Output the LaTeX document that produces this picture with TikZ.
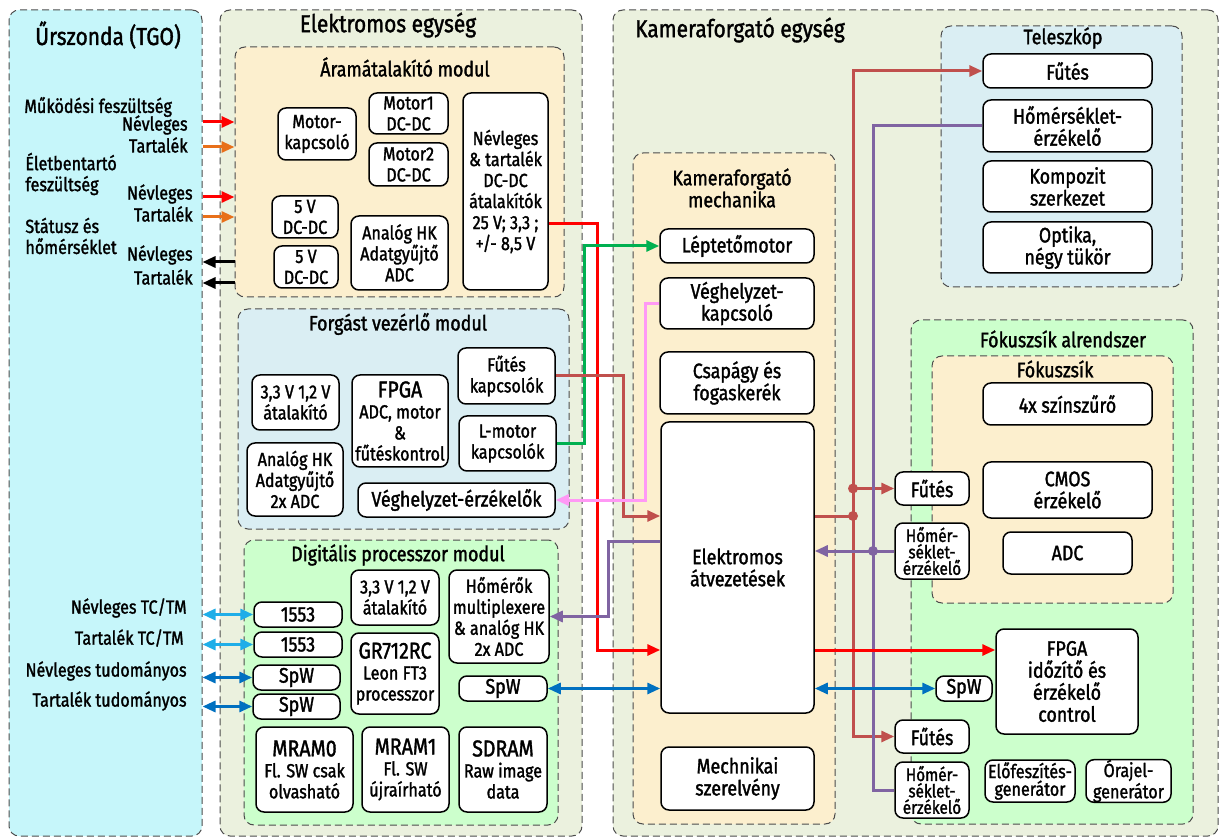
\documentclass[tikz,border=0pt]{standalone}
\usepackage{fontspec}
\setmainfont{Fira Sans}[FakeStretch=0.85,FakeBold=1.5]
\usetikzlibrary{arrows.meta}
\definecolor{cTGO}{HTML}{C6F6FA}
\definecolor{cUnit}{HTML}{EBF1DE}
\definecolor{cYel}{HTML}{FCEFCE}
\definecolor{cBlu}{HTML}{DAEEF3}
\definecolor{cGrn}{HTML}{CCFFCC}
\definecolor{wRed}{HTML}{FF0000}
\definecolor{wOra}{HTML}{E8701A}
\definecolor{wCyn}{HTML}{1FAEE8}
\definecolor{wBlu}{HTML}{0070C0}
\definecolor{wGrn}{HTML}{00B050}
\definecolor{wPnk}{HTML}{FF99F5}
\definecolor{wBrn}{HTML}{C0504D}
\definecolor{wPur}{HTML}{8064A2}
\newcommand\fsT{\fontsize{12.3}{13}\selectfont}
\newcommand\fsM{\fontsize{10.5}{11.5}\selectfont}
\newcommand\fsN{\fontsize{9.5}{10.5}\selectfont}
\newcommand\fsR{\fontsize{10.5}{11}\selectfont}
\newcommand\fsS{\fontsize{9}{8.2}\selectfont}
\newcommand\fsG{\fontsize{9.5}{8.8}\selectfont}
\newcommand\fsB{\fontsize{11.5}{12}\selectfont}
\begin{document}
\begin{tikzpicture}[x=0.5pt, y=-0.5pt, >={Triangle[length=6.5pt,width=5.5pt]},
  bx/.style args={#1/#2/#3/#4}{at={({(#1+#3)/2},{(#2+#4)/2})},
    minimum width={(#3-#1)*0.5pt}, minimum height={(#4-#2)*0.5pt}},
  grp/.style={draw=black!70, dash pattern=on 3.5pt off 2pt, line width=0.5pt, rounded corners=5pt, inner sep=0pt},
  box/.style={draw, line width=0.75pt, rounded corners=4pt, fill=white, inner sep=0pt, align=center, font=\fsN},
  rbox/.style={box, font=\fsR},
  sbox/.style={box, font=\fsS},
  ttl/.style={font=\fsT},
  mtl/.style={font=\fsM, align=center},
  lbl/.style={font=\fsN, align=left, inner sep=0pt},
  wire/.style={line width=1.5pt}]
 \useasboundingbox (0,0) rectangle (1226,839);
 % nagy egysegek
 \node[grp, fill=cTGO, bx=9/10/202/836] (tgo) {};
 \node[ttl] (tgot) at (108,35) {Űrszonda (TGO)};
 \node[grp, fill=cUnit, bx=220/10/582/836] (elek) {};
 \node[ttl] (elekt) at (388,25) {Elektromos egység};
 \node[grp, fill=cUnit, bx=613/10/1218/836] (kam) {};
 \node[ttl] (kamt) at (740,30) {Kameraforgató egység};
 % urszonda feliratok
 \node[lbl, anchor=west] (l1) at (24,107) {Működési feszültség};
 \node[lbl, anchor=east] (l2) at (188,125) {Névleges};
 \node[lbl, anchor=east] (l3) at (188,145) {Tartalék};
 \node[lbl, anchor=west] (l4) at (25,174) {Életbentartó\\feszültség};
 \node[lbl, anchor=east] (l5) at (193,194) {Névleges};
 \node[lbl, anchor=east] (l6) at (193,214) {Tartalék};
 \node[lbl, anchor=west] (l7) at (25,236) {Státusz és\\hőmérséklet};
 \node[lbl, anchor=east] (l8) at (193,255) {Névleges};
 \node[lbl, anchor=east] (l9) at (193,277) {Tartalék};
 \node[lbl, anchor=east] (l10) at (187,608) {Névleges TC/TM};
 \node[lbl, anchor=east] (l11) at (184,638) {Tartalék TC/TM};
 \node[lbl, anchor=east] (l12) at (187,671) {Névleges tudományos};
 \node[lbl, anchor=east] (l13) at (187,701) {Tartalék tudományos};
 % aramatalakito modul
 \node[grp, fill=cYel, bx=235/47/564/297] (aram) {};
 \node[mtl] (aramt) at (405,67) {Áramátalakító modul};
 \node[box, bx=278/108/356/160] (mkap) {Motor-\\kapcsoló};
 \node[box, bx=369/93/448/134] (m1) {Motor1\\DC-DC};
 \node[box, bx=369/143/448/186] (m2) {Motor2\\DC-DC};
 \node[box, bx=463/93/548/290] (dcdc) {Névleges\\\& tartalék\\DC-DC\\átalakítók\\25 V; 3,3 ;\\+/- 8,5 V};
 \node[box, bx=272/196/338/238] (v5a) {5 V\\DC-DC};
 \node[box, bx=274/246/338/288] (v5b) {5 V\\DC-DC};
 \node[box, bx=351/216/448/290] (ahk) {Analóg HK\\Adatgyűjtő\\ADC};
 % forgast vezerlo modul
 \node[grp, fill=cBlu, bx=238/309/569/529] (forg) {};
 \node[mtl] (forgt) at (398,324) {Forgást vezérlő modul};
 \node[box, bx=252/375/339/430] (f33) {3,3 V 1,2 V\\átalakító};
 \node[box, bx=352/375/448/467] (ffpga) {{\fsB FPGA}\\ADC, motor\\\&\\fűtéskontrol};
 \node[box, bx=458/348/555/404] (fkap) {Fűtés\\kapcsolók};
 \node[box, bx=459/416/556/471] (lmot) {L-motor\\kapcsolók};
 \node[box, bx=247/443/343/516] (fahk) {Analóg HK\\Adatgyűjtő\\2x ADC};
 \node[rbox, bx=358/483/555/517] (verz) {Véghelyzet-érzékelők};
 % digitalis processzor modul
 \node[grp, fill=cGrn, bx=244/540/558/825] (dig) {};
 \node[mtl] (digt) at (398,555) {Digitális processzor modul};
 \node[rbox, bx=254/602/342/627] (b1553a) {1553};
 \node[rbox, bx=254/632/342/657] (b1553b) {1553};
 \node[rbox, bx=253/665/340/690] (spwa) {SpW};
 \node[rbox, bx=253/694/340/719] (spwb) {SpW};
 \node[box, bx=351/570/439/625] (d33) {3,3 V 1,2 V\\átalakító};
 \node[box, bx=351/633/439/714] (gr) {{\fsB GR712RC}\\Leon FT3\\processzor};
 \node[box, bx=449/570/549/663] (hmux) {Hőmérők\\multiplexere\\\& analóg HK\\2x ADC};
 \node[rbox, bx=459/676/547/701] (spwc) {SpW};
 \node[box, bx=256/727/353/812] (mram0) {{\fsB MRAM0}\\Fl. SW csak\\olvasható};
 \node[box, bx=362/727/449/812] (mram1) {{\fsB MRAM1}\\Fl. SW\\újraírható};
 \node[box, bx=459/727/547/812] (sdram) {{\fsB SDRAM}\\Raw image\\data};
 % kameraforgato mechanika
 \node[grp, fill=cYel, bx=633/153/835/824] (mech) {};
 \node[mtl, font=\fsR] (mecht) at (732,188) {Kameraforgató\\mechanika};
 \node[rbox, bx=660/229/814/263] (lept) {Léptetőmotor};
 \node[rbox, bx=660/278/814/329] (vkap) {Véghelyzet-\\kapcsoló};
 \node[rbox, bx=660/352/814/414] (csap) {Csapágy és\\fogaskerék};
 \node[rbox, bx=661/422/814/713] (atv) {Elektromos\\átvezetések};
 \node[rbox, bx=661/747/814/810] (mszer) {Mechnikai\\szerelvény};
 % teleszkop
 \node[grp, fill=cBlu, bx=941/26/1182/287] (tel) {};
 \node[mtl] (telt) at (1063,38) {Teleszkóp};
 \node[rbox, bx=983/54/1152/88] (tfut) {Fűtés};
 \node[rbox, bx=983/100/1152/152] (tho) {Hőmérséklet-\\érzékelő};
 \node[rbox, bx=983/161/1152/212] (tkomp) {Kompozit\\szerkezet};
 \node[rbox, bx=983/222/1152/273] (topt) {Optika,\\négy tükör};
 % fokuszsik alrendszer
 \node[grp, fill=cGrn, bx=911/320/1193/824] (fal) {};
 \node[mtl] (falt) at (1063,339) {Fókuszsík alrendszer};
 \node[grp, fill=cYel, bx=932/356/1173/603] (fs) {};
 \node[mtl] (fst) at (1055,369) {Fókuszsík};
 \node[rbox, bx=983/383/1152/425] (szsz) {4x színszűrő};
 \node[rbox, bx=983/462/1152/518] (cmos) {CMOS\\érzékelő};
 \node[rbox, bx=1003/532/1132/574] (adc) {ADC};
 \node[rbox, bx=895/472/969/505] (fut1) {Fűtés};
 \node[sbox, bx=895/523/969/579] (hom1) {Hőmér-\\séklet-\\érzékelő};
 \node[rbox, bx=996/629/1138/734] (fpgaf) {FPGA\\időzítő és\\érzékelő\\control};
 \node[rbox, bx=936/676/992/701] (spwf) {SpW};
 \node[rbox, bx=895/720/969/753] (fut2) {Fűtés};
 \node[sbox, bx=895/762/969/818] (hom2) {Hőmér-\\séklet-\\érzékelő};
 \node[box, font=\fsG, bx=985/760/1075/802] (elof) {Előfeszítés-\\generátor};
 \node[box, font=\fsG, bx=1086/760/1171/802] (oraj) {Órajel-\\generátor};
 % tapellatas es statusz
 \draw[wire,wRed,->] (tgo.east|-0,122) -- (aram.west|-0,122);
 \draw[wire,wOra,->] (tgo.east|-0,147) -- (aram.west|-0,147);
 \draw[wire,wRed,->] (tgo.east|-0,197) -- (aram.west|-0,197);
 \draw[wire,wOra,->] (tgo.east|-0,217) -- (aram.west|-0,217);
 \draw[wire,->] (aram.west|-0,262) -- (tgo.east|-0,262);
 \draw[wire,->] (aram.west|-0,283) -- (tgo.east|-0,283);
 \draw[wire,wCyn,<->] (tgo.east|-b1553a.west) -- (b1553a.west);
 \draw[wire,wCyn,<->] (tgo.east|-b1553b.west) -- (b1553b.west);
 \draw[wire,wBlu,<->] (tgo.east|-spwa.west) -- (spwa.west);
 \draw[wire,wBlu,<->] (tgo.east|-spwb.west) -- (spwb.west);
 % buszok
 \coordinate (hbus) at (853,0);
 \coordinate (tbus) at (873,0);
 \draw[wire,wBrn,->] (atv.east|-0,516) -| (hbus|-tfut.west) -- (tfut.west);
 \draw[wire,wBrn,->] (hbus|-fut1.west) -- (fut1.west);
 \draw[wire,wBrn,->] (hbus|-0,516) |- (fut2.west);
 \fill[wBrn] (hbus|-fut1.west) circle (5);
 \fill[wBrn] (hbus|-0,516) circle (5);
 \draw[wire,wPur] (tho.west) -| (tbus|-hom2.west) -- (hom2.west);
 \draw[wire,wPur,->] (hom1.west) -- (atv.east|-hom1.west);
 \fill[wPur] (tbus|-hom1.west) circle (5);
 % vezetekek
 \draw[wire,wRed,->] (dcdc.east|-0,224) -- ++(49,0) |- (atv.west|-0,650);
 \draw[wire,wRed,->] (atv.east|-0,650) -- (fpgaf.west|-0,650);
 \draw[wire,wGrn,->] (lmot.east) -- ++(28,0) |- (lept.west);
 \draw[wire,wBrn,->] (fkap.east) -- ++(68,0) |- (atv.west|-0,516);
 \draw[wire,wPnk,->] (vkap.west) -- ++(-14,0) |- (verz.east);
 \draw[wire,wPur,->] (atv.west|-0,541) -- ++(-52,0) |- (hmux.east);
 \draw[wire,wBlu,<->] (spwc.east) -- (atv.west|-spwc.east);
 \draw[wire,wBlu,<->] (atv.east|-spwf.west) -- (spwf.west);
\end{tikzpicture}
\end{document}
